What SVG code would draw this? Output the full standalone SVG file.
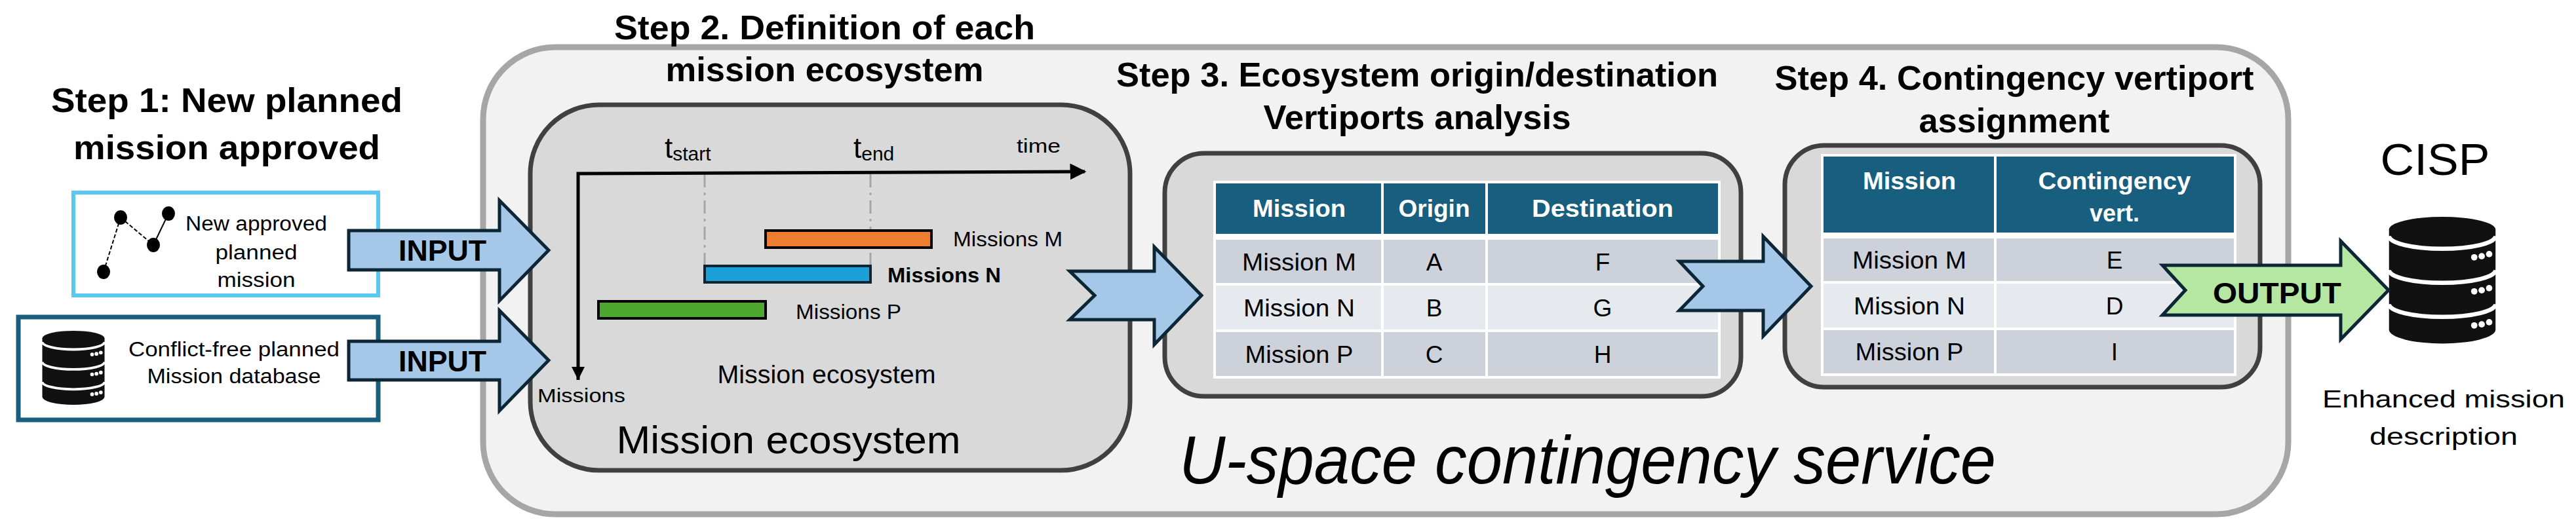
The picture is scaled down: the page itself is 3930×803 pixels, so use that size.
<svg xmlns="http://www.w3.org/2000/svg" width="3930" height="803" viewBox="0 0 3930 803">
<style>
text{font-family:"Liberation Sans",Arial,sans-serif;fill:#000}
.t{font-weight:bold;font-size:52px;text-anchor:middle}
.c{text-anchor:middle}
.inner{fill:#d9d9d9;stroke:#404040;stroke-width:7}
.arr{fill:#a5c8e9;stroke:#0d2636;stroke-width:5;stroke-linejoin:miter}
.hd{fill:#185f7f}
.r1{fill:#cdd2da}
.r2{fill:#e6e9ed}
.ht{font-weight:bold;font-size:36px;fill:#fff;text-anchor:middle}
.rt{font-size:37px;text-anchor:middle}
.al{font-weight:bold;font-size:44px;text-anchor:middle}
</style>
<defs>
<symbol id="db" viewBox="0 0 100 120">
<path d="M0,12 V106 A50,13 0 0 0 100,106 V12 Z" fill="#111"/>
<ellipse cx="50" cy="12" rx="50" ry="12" fill="#111"/>
<path d="M0,18 A50,12 0 0 0 100,18" fill="none" stroke="#fff" stroke-width="4"/>
<path d="M0,50 A50,12 0 0 0 100,50" fill="none" stroke="#fff" stroke-width="4"/>
<path d="M0,82 A50,12 0 0 0 100,82" fill="none" stroke="#fff" stroke-width="4"/>
<g fill="#fff"><circle cx="80" cy="38" r="3"/><circle cx="87" cy="37" r="3"/><circle cx="94" cy="35" r="3"/>
<circle cx="80" cy="70" r="3"/><circle cx="87" cy="69" r="3"/><circle cx="94" cy="67" r="3"/>
<circle cx="80" cy="102" r="3"/><circle cx="87" cy="101" r="3"/><circle cx="94" cy="99" r="3"/></g>
</symbol>
<marker id="ah" viewBox="0 0 10 10" refX="9" refY="5" markerWidth="5" markerHeight="5" orient="auto"><path d="M0,0 L10,5 L0,10 Z" fill="#000"/></marker>
</defs>

<g id="service">
<rect x="737" y="72" width="2754" height="713" rx="110" fill="#f2f2f2" stroke="#a6a6a6" stroke-width="9"/>
<text x="2422" y="738" font-size="104" font-style="italic" text-anchor="middle" textLength="1246" lengthAdjust="spacingAndGlyphs">U-space contingency service</text>
</g>

<g id="step1">
<text class="t" x="346" y="171" textLength="536" lengthAdjust="spacingAndGlyphs">Step 1: New planned</text>
<text class="t" x="346" y="243" textLength="468" lengthAdjust="spacingAndGlyphs">mission approved</text>
</g>

<g id="newmission">
<rect x="112" y="294" width="465" height="157" fill="#fff" stroke="#5bc8f0" stroke-width="6"/>
<g stroke="#000" stroke-width="2"><line x1="158" y1="415" x2="184" y2="332" stroke-dasharray="6,3"/><line x1="184" y1="332" x2="234" y2="374" stroke-dasharray="6,3"/><line x1="234" y1="374" x2="257" y2="326"/></g>
<g fill="#000"><ellipse cx="184" cy="332" rx="10" ry="11"/><ellipse cx="257" cy="326" rx="10" ry="11"/><ellipse cx="234" cy="374" rx="10" ry="11"/><ellipse cx="158" cy="415" rx="10" ry="11"/></g>
<text class="c" x="391" y="352" font-size="31" textLength="216" lengthAdjust="spacingAndGlyphs">New approved</text>
<text class="c" x="391" y="396" font-size="31" textLength="125" lengthAdjust="spacingAndGlyphs">planned</text>
<text class="c" x="391" y="438" font-size="31" textLength="119" lengthAdjust="spacingAndGlyphs">mission</text>
</g>

<g id="database">
<rect x="28" y="484" width="549" height="157" fill="#fff" stroke="#1a5e7e" stroke-width="7"/>
<use href="#db" x="64" y="505" width="96" height="114" preserveAspectRatio="none"/>
<text class="c" x="357" y="544" font-size="31" textLength="322" lengthAdjust="spacingAndGlyphs">Conflict-free planned</text>
<text class="c" x="357" y="585" font-size="31" textLength="265" lengthAdjust="spacingAndGlyphs">Mission database</text>
</g>

<g id="step2">
<text class="t" x="1258" y="60" textLength="642" lengthAdjust="spacingAndGlyphs">Step 2. Definition of  each</text>
<text class="t" x="1258" y="124" textLength="485" lengthAdjust="spacingAndGlyphs">mission ecosystem</text>
<rect class="inner" x="809" y="160" width="915" height="558" rx="105"/>
<g stroke="#a6a6a6" stroke-width="3" stroke-dasharray="20,8,4,8"><line x1="1075" y1="266" x2="1075" y2="406"/><line x1="1328" y1="266" x2="1328" y2="406"/></g>
<polyline points="882,580 882,265 1655,262" fill="none" stroke="#000" stroke-width="5" marker-end="url(#ah)"/>
<line x1="882" y1="300" x2="882" y2="578" stroke="#000" stroke-width="4" marker-end="url(#ah)"/>
<text x="1014" y="241" font-size="44">t<tspan font-size="30" dy="4">start</tspan></text>
<text x="1302" y="241" font-size="44">t<tspan font-size="30" dy="4">end</tspan></text>
<text x="1551" y="233" font-size="30" textLength="67" lengthAdjust="spacingAndGlyphs">time</text>
<rect x="1168" y="352" width="253" height="26" fill="#ed7d31" stroke="#000" stroke-width="4"/>
<rect x="1075" y="406" width="253" height="25" fill="#1ba1d8" stroke="#0d2636" stroke-width="4"/>
<rect x="913" y="460" width="255" height="26" fill="#4ea72e" stroke="#000" stroke-width="4"/>
<text x="1454" y="376" font-size="31" textLength="167" lengthAdjust="spacingAndGlyphs">Missions M</text>
<text x="1354" y="431" font-size="31" font-weight="bold" textLength="173" lengthAdjust="spacingAndGlyphs">Missions N</text>
<text x="1214" y="487" font-size="31" textLength="161" lengthAdjust="spacingAndGlyphs">Missions P</text>
<text x="820" y="614" font-size="29" textLength="134" lengthAdjust="spacingAndGlyphs">Missions</text>
<text class="c" x="1261" y="585" font-size="38" textLength="333" lengthAdjust="spacingAndGlyphs">Mission ecosystem</text>
<text class="c" x="1203" y="692" font-size="60" textLength="525" lengthAdjust="spacingAndGlyphs">Mission ecosystem</text>
</g>

<g id="step3">
<text class="t" x="2162" y="132" textLength="918" lengthAdjust="spacingAndGlyphs">Step 3. Ecosystem origin/destination</text>
<text class="t" x="2162" y="197" textLength="469" lengthAdjust="spacingAndGlyphs">Vertiports analysis</text>
<rect class="inner" x="1777" y="234" width="879" height="371" rx="60"/>
<rect x="1851" y="276" width="774" height="302" fill="#fff"/>
<rect class="hd" x="1855" y="280" width="252" height="77"/><rect class="hd" x="2111" y="280" width="155" height="77"/><rect class="hd" x="2270" y="280" width="351" height="77"/>
<rect class="r1" x="1855" y="366" width="252" height="66"/><rect class="r1" x="2111" y="366" width="155" height="66"/><rect class="r1" x="2270" y="366" width="351" height="66"/>
<rect class="r2" x="1855" y="436" width="252" height="67"/><rect class="r2" x="2111" y="436" width="155" height="67"/><rect class="r2" x="2270" y="436" width="351" height="67"/>
<rect class="r1" x="1855" y="507" width="252" height="67"/><rect class="r1" x="2111" y="507" width="155" height="67"/><rect class="r1" x="2270" y="507" width="351" height="67"/>
<text class="ht" x="1982" y="331" textLength="142" lengthAdjust="spacingAndGlyphs">Mission</text><text class="ht" x="2188" y="331" textLength="109" lengthAdjust="spacingAndGlyphs">Origin</text><text class="ht" x="2445" y="331" textLength="216" lengthAdjust="spacingAndGlyphs">Destination</text>
<text class="rt" x="1982" y="413" textLength="174" lengthAdjust="spacingAndGlyphs">Mission M</text><text class="rt" x="2188" y="413">A</text><text class="rt" x="2445" y="413">F</text>
<text class="rt" x="1982" y="483" textLength="170" lengthAdjust="spacingAndGlyphs">Mission N</text><text class="rt" x="2188" y="483">B</text><text class="rt" x="2445" y="483">G</text>
<text class="rt" x="1982" y="554" textLength="165" lengthAdjust="spacingAndGlyphs">Mission P</text><text class="rt" x="2188" y="554">C</text><text class="rt" x="2445" y="554">H</text>
</g>

<g id="step4">
<text class="t" x="3073" y="137" textLength="731" lengthAdjust="spacingAndGlyphs">Step 4. Contingency vertiport</text>
<text class="t" x="3073" y="202" textLength="291" lengthAdjust="spacingAndGlyphs">assignment</text>
<rect class="inner" x="2723" y="222" width="725" height="369" rx="60"/>
<rect x="2778" y="235" width="634" height="339" fill="#fff"/>
<rect class="hd" x="2782" y="239" width="260" height="116"/><rect class="hd" x="3046" y="239" width="362" height="116"/>
<rect class="r1" x="2782" y="364" width="260" height="65"/><rect class="r1" x="3046" y="364" width="362" height="65"/>
<rect class="r2" x="2782" y="433" width="260" height="67"/><rect class="r2" x="3046" y="433" width="362" height="67"/>
<rect class="r1" x="2782" y="504" width="260" height="66"/><rect class="r1" x="3046" y="504" width="362" height="66"/>
<text class="ht" x="2913" y="289" textLength="142" lengthAdjust="spacingAndGlyphs">Mission</text><text class="ht" x="3226" y="289" textLength="233" lengthAdjust="spacingAndGlyphs">Contingency</text><text class="ht" x="3226" y="338">vert.</text>
<text class="rt" x="2913" y="410" textLength="174" lengthAdjust="spacingAndGlyphs">Mission M</text><text class="rt" x="3226" y="410">E</text>
<text class="rt" x="2913" y="480" textLength="170" lengthAdjust="spacingAndGlyphs">Mission N</text><text class="rt" x="3226" y="480">D</text>
<text class="rt" x="2913" y="550" textLength="165" lengthAdjust="spacingAndGlyphs">Mission P</text><text class="rt" x="3226" y="550">I</text>
</g>

<g id="cisp">
<text class="c" x="3715" y="267" font-size="68" textLength="167" lengthAdjust="spacingAndGlyphs">CISP</text>
<use href="#db" x="3644" y="331" width="164" height="195" preserveAspectRatio="none"/>
<text class="c" x="3728" y="622" font-size="36" textLength="370" lengthAdjust="spacingAndGlyphs">Enhanced mission</text>
<text class="c" x="3728" y="679" font-size="36" textLength="226" lengthAdjust="spacingAndGlyphs">description</text>
</g>

<g id="connectors">
<path class="arr" d="M532,352 H762 V306 L837,382 L762,459 V412 H532 Z"/>
<text class="al" x="675" y="398" textLength="134" lengthAdjust="spacingAndGlyphs">INPUT</text>
<path class="arr" d="M532,521 H762 V474 L837,550 L762,627 V580 H532 Z"/>
<text class="al" x="675" y="567" textLength="134" lengthAdjust="spacingAndGlyphs">INPUT</text>
<path class="arr" d="M1632,414 H1761 V377 L1833,451 L1761,526 V488 H1632 L1670,451 Z"/>
<path class="arr" d="M2562,399 H2690 V361 L2763,437 L2690,513 V474 H2562 L2598,437 Z"/>
<path class="arr" style="fill:#b5e6a2" d="M3299,405 H3571 V368 L3644,443 L3571,518 V481 H3299 L3334,443 Z"/>
<text class="al" x="3474" y="463" textLength="196" lengthAdjust="spacingAndGlyphs">OUTPUT</text>
</g>
</svg>
